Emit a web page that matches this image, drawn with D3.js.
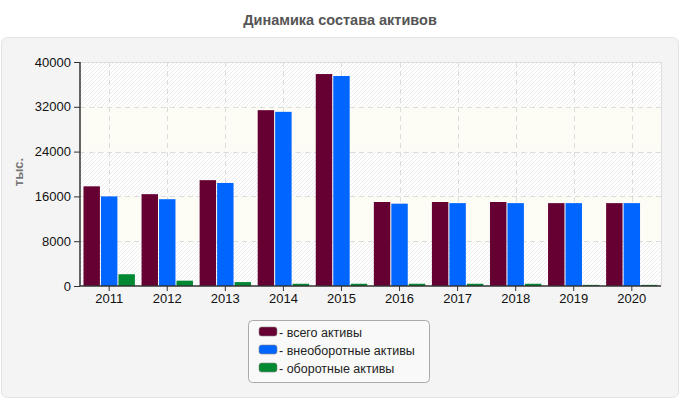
<!DOCTYPE html>
<html><head><meta charset="utf-8">
<script src="https://cdn.jsdelivr.net/npm/d3@7"></script>
<style>body{margin:0;background:#fff;font-family:"Liberation Sans",Arial,sans-serif;}</style>
</head><body><svg id="c" width="680" height="400"></svg>
<script>
const years = ["2011","2012","2013","2014","2015","2016","2017","2018","2019","2020"];
const totalAssets = [17800,16400,18900,31400,37850,15000,15000,15000,14800,14800];
const nonCurrentAssets = [16000,15500,18400,31100,37500,14700,14800,14800,14800,14800];
const currentAssets = [2100,950,700,400,400,400,400,400,200,200];
const seriesNames = ["- всего активы","- внеоборотные активы","- оборотные активы"];
const colors = ["#660033","#0066ff","#008833"];
const yTicks = [0,8000,16000,24000,32000,40000];

const svg = d3.select("#c");
const m = {l:80,t:62,r:661,b:286};
// panel
svg.append("rect").attr("x",1.5).attr("y",37.5).attr("width",677).attr("height",360).attr("rx",6)
  .attr("fill","#f4f4f4").attr("stroke","#e2e2e2");
svg.append("text").attr("x",340).attr("y",25).attr("text-anchor","middle")
  .attr("font-size",14.5).attr("font-weight","bold").attr("fill","#555").text("Динамика состава активов");

const defs = svg.append("defs");
const pat = defs.append("pattern").attr("id","hatch").attr("patternUnits","userSpaceOnUse")
  .attr("width",4).attr("height",4);
pat.append("rect").attr("width",4).attr("height",4).attr("fill","#fff");
pat.append("path").attr("d","M-1,1 l2,-2 M0,4 l4,-4 M3,5 l2,-2").attr("stroke","#ececec").attr("stroke-width",1);

const x = d3.scaleBand().domain(years).range([m.l,m.r]).paddingInner(0.115).paddingOuter(0.06);
const xs = d3.scaleBand().domain([0,1,2]).range([0,x.bandwidth()]).paddingInner(0.06);
const y = d3.scaleLinear().domain([0,40000]).range([m.b,m.t]);

svg.append("rect").attr("x",m.l).attr("y",m.t).attr("width",m.r-m.l).attr("height",m.b-m.t).attr("fill","url(#hatch)");
// alternating bands
for(let i=0;i<yTicks.length-1;i++){
  if(i%2===1){
    svg.append("rect").attr("x",m.l).attr("y",y(yTicks[i+1])).attr("width",m.r-m.l)
      .attr("height",y(yTicks[i])-y(yTicks[i+1])).attr("fill","#fdfdf5").attr("opacity",0.9);
  }
}
// grid
const xc = d => x(d)+x.bandwidth()/2;
svg.append("g").selectAll("line").data(years).join("line")
  .attr("x1",d=>Math.round(xc(d))+0.5).attr("x2",d=>Math.round(xc(d))+0.5).attr("y1",m.t).attr("y2",m.b)
  .attr("stroke","#dcdcdc").attr("stroke-dasharray","5,4");
svg.append("g").selectAll("line").data(yTicks.slice(1,-1)).join("line")
  .attr("x1",m.l).attr("x2",m.r).attr("y1",d=>Math.round(y(d))+0.5).attr("y2",d=>Math.round(y(d))+0.5)
  .attr("stroke","#dcdcdc").attr("stroke-dasharray","5,4");
svg.append("line").attr("x1",m.l).attr("x2",m.r).attr("y1",m.t+0.5).attr("y2",m.t+0.5).attr("stroke","#ddd");
svg.append("line").attr("x1",m.r+0.5).attr("x2",m.r+0.5).attr("y1",m.t).attr("y2",m.b).attr("stroke","#ddd");

// bars
const series = [totalAssets,nonCurrentAssets,currentAssets];
series.forEach((vals,si)=>{
  svg.append("g").selectAll("rect").data(years).join("rect")
    .attr("x",(d)=>x(d)+xs(si)).attr("width",xs.bandwidth())
    .attr("y",(d,i)=>y(vals[i])).attr("height",(d,i)=>y(0)-y(vals[i]))
    .attr("fill",colors[si]);
});

// axes
const ya = svg.append("g").attr("transform",`translate(${m.l},0)`)
  .call(d3.axisLeft(y).tickValues(yTicks).tickSize(6).tickPadding(3).tickFormat(d3.format("d")));
const xa = svg.append("g").attr("transform",`translate(0,${m.b})`)
  .call(d3.axisBottom(x).tickSize(5).tickPadding(3));
[ya,xa].forEach(a=>{
  a.select(".domain").attr("stroke","#333").attr("stroke-width",1.5);
  a.selectAll(".tick line").attr("stroke","#333");
  a.selectAll("text").attr("font-size",13).attr("fill","#111").attr("font-family","Liberation Sans, Arial, sans-serif");
});
ya.select(".domain").attr("d",`M0,${m.t}V${m.b}`);
xa.select(".domain").attr("d",`M${m.l},0H${m.r}`);

svg.append("text").attr("transform","translate(23,172) rotate(-90)").attr("text-anchor","middle")
  .attr("font-size",13).attr("font-weight","bold").attr("fill","#777").text("тыс.");

// legend
const lg = svg.append("g");
lg.append("rect").attr("x",248.5).attr("y",320.5).attr("width",181).attr("height",62).attr("rx",4)
  .attr("fill","#f9f9f9").attr("stroke","#aaa");
seriesNames.forEach((n,i)=>{
  lg.append("rect").attr("x",259).attr("y",327+i*18).attr("width",18).attr("height",9).attr("rx",2.5)
    .attr("fill",colors[i]).attr("stroke","#888").attr("stroke-width",0.6);
  lg.append("text").attr("x",279).attr("y",336.5+i*18).attr("font-size",12.5).attr("fill","#222").text(n);
});
</script></body></html>
